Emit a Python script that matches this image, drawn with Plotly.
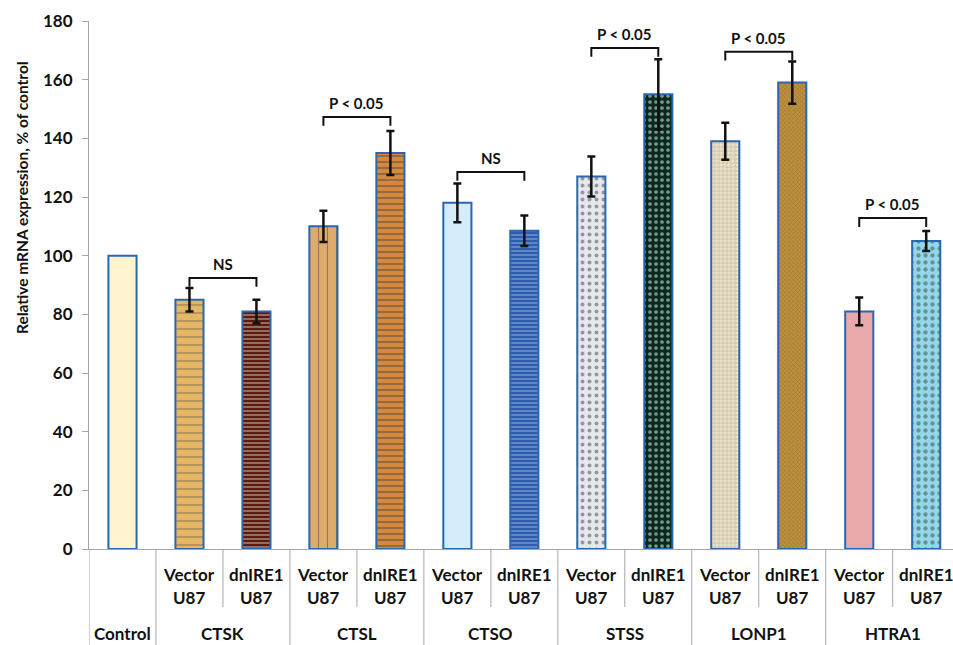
import plotly.graph_objects as go

# ---- data -------------------------------------------------------------
groups = ["Control", "CTSK", "CTSL", "CTSO", "STSS", "LONP1", "HTRA1"]
conditions = ["", "Vector", "dnIRE1", "Vector", "dnIRE1", "Vector", "dnIRE1",
              "Vector", "dnIRE1", "Vector", "dnIRE1", "Vector", "dnIRE1"]
cell_line = ["", "U87", "U87", "U87", "U87", "U87", "U87",
             "U87", "U87", "U87", "U87", "U87", "U87"]
values = [100, 85, 81, 110, 135, 118, 108.5, 127, 155, 139, 159, 81, 105]
errors = [0, 4, 4, 5.3, 7.5, 6.6, 5.2, 6.8, 12, 6.3, 7.2, 4.7, 3.4]

# significance brackets: (left bar, right bar, bracket height, label)
brackets = [
    (1, 2, 92.4, "NS"),
    (3, 4, 147.3, "P < 0.05"),
    (5, 6, 128.5, "NS"),
    (7, 8, 170.8, "P < 0.05"),
    (9, 10, 169.5, "P < 0.05"),
    (11, 12, 112.8, "P < 0.05"),
]

y_ticks = [0, 20, 40, 60, 80, 100, 120, 140, 160, 180]

# ---- per-bar fill styles (base colour + texture) ----------------------
bg_colors = ["#FFF4CF", "#E4B765", "#5C1A0B", "#DEAB6C", "#D6893E",
             "#D6ECFB", "#2D5DB0", "#E6E9EC", "#062A1E", "#EBE1C6",
             "#C0913A", "#E8A9AD", "#92D8EA"]
fg_colors = ["#FFF4CF", "#D6A650", "#260602", "#D29C5A", "#B45A20",
             "#C8E3F7", "#86A8E2", "#B9BFC5", "#0A3928", "#D6C8A2",
             "#86601F", "#DD979C", "#68BED5"]
shapes_pat = ["", "-", "-", "|", "-", "", "-", ".", ".", "+", "x", "", "."]
pat_size = [6, 8, 4, 9, 6, 6, 4, 7, 6, 4, 3, 6, 7]
pat_solid = [0.2, 0.15, 0.35, 0.12, 0.3, 0.2, 0.25, 0.25, 0.3, 0.15, 0.25, 0.2, 0.3]

x_pos = list(range(len(values)))
has_err = [e > 0 for e in errors]

fig = go.Figure()

fig.add_trace(go.Bar(
    x=x_pos,
    y=values,
    width=0.42,
    marker=dict(
        color=bg_colors,
        line=dict(color="#2A67B3", width=2),
        pattern=dict(
            shape=shapes_pat,
            fgcolor=fg_colors,
            bgcolor=bg_colors,
            size=pat_size,
            solidity=pat_solid,
            fillmode="overlay",
        ),
    ),
    showlegend=False,
    hoverinfo="skip",
))

# error bars for the treated bars (the control is the 100 % reference)
fig.add_trace(go.Scatter(
    x=[x for x, h in zip(x_pos, has_err) if h],
    y=[v for v, h in zip(values, has_err) if h],
    mode="markers",
    marker=dict(size=0.1, color="rgba(0,0,0,0)"),
    error_y=dict(type="data",
                 array=[e for e, h in zip(errors, has_err) if h],
                 visible=True, color="#111111", thickness=2.5, width=4),
    showlegend=False,
    hoverinfo="skip",
))

# significance brackets
leg = 3.0
for i0, i1, h, label in brackets:
    fig.add_trace(go.Scatter(
        x=[i0, i0, i1, i1],
        y=[h - leg, h, h, h - leg],
        mode="lines",
        line=dict(color="#111111", width=2),
        showlegend=False,
        hoverinfo="skip",
    ))
    fig.add_annotation(
        x=(i0 + i1) / 2, y=h, xref="x", yref="y",
        text=label, showarrow=False, yanchor="bottom", yshift=3,
        font=dict(family="Lato", size=15, color="#111111", weight="bold"),
    )

# category table under the axis
plot_h = 645 - 21 - 96
label_font = dict(family="Lato", size=17, color="#111111", weight="bold")
for i, (cond, cl) in enumerate(zip(conditions, cell_line)):
    if cond:
        fig.add_annotation(x=i, y=0, xref="x", yref="paper", text=cond,
                           showarrow=False, yanchor="middle", yshift=-25,
                           font=label_font)
        fig.add_annotation(x=i, y=0, xref="x", yref="paper", text=cl,
                           showarrow=False, yanchor="middle", yshift=-48,
                           font=label_font)

group_centers = [0] + [2 * g - 0.5 for g in range(1, len(groups))]
for g, cx in zip(groups, group_centers):
    fig.add_annotation(x=cx, y=0, xref="x", yref="paper", text=g,
                       showarrow=False, yanchor="middle", yshift=-84,
                       font=label_font)

sep_color = "#A6A6A6"
full_depth = -96 / plot_h
short_depth = -58 / plot_h
for b in [-0.5, 0.5, 2.5, 4.5, 6.5, 8.5, 10.5]:
    fig.add_shape(type="line", xref="x", yref="paper", x0=b, x1=b,
                  y0=0, y1=full_depth, line=dict(color=sep_color, width=1))
for b in [1.5, 3.5, 5.5, 7.5, 9.5, 11.5]:
    fig.add_shape(type="line", xref="x", yref="paper", x0=b, x1=b,
                  y0=0, y1=short_depth, line=dict(color=sep_color, width=1))

# y-axis title
fig.add_annotation(
    x=-(89 - 22) / 864, y=(549 - 198) / plot_h, xref="paper", yref="paper",
    text="Relative mRNA expression, % of control", textangle=-90,
    showarrow=False, xanchor="center", yanchor="middle",
    font=dict(family="Lato", size=15.5, color="#111111", weight="bold"),
)

fig.update_layout(
    width=953, height=645,
    margin=dict(l=89, r=0, t=21, b=96),
    plot_bgcolor="white", paper_bgcolor="white",
    xaxis=dict(range=[-0.5, 12.4], showticklabels=False, ticks="",
               showgrid=False, zeroline=False, showline=True,
               linecolor=sep_color, linewidth=1, fixedrange=True),
    yaxis=dict(range=[0, 180], tickvals=y_ticks, ticks="outside",
               ticklen=6, tickcolor=sep_color, showgrid=False,
               zeroline=False, showline=True, linecolor=sep_color,
               linewidth=1, ticklabelstandoff=6,
               tickfont=dict(family="Lato", size=17, color="#111111",
                             weight="bold"),
               fixedrange=True),
)

fig.write_html("out.html")
